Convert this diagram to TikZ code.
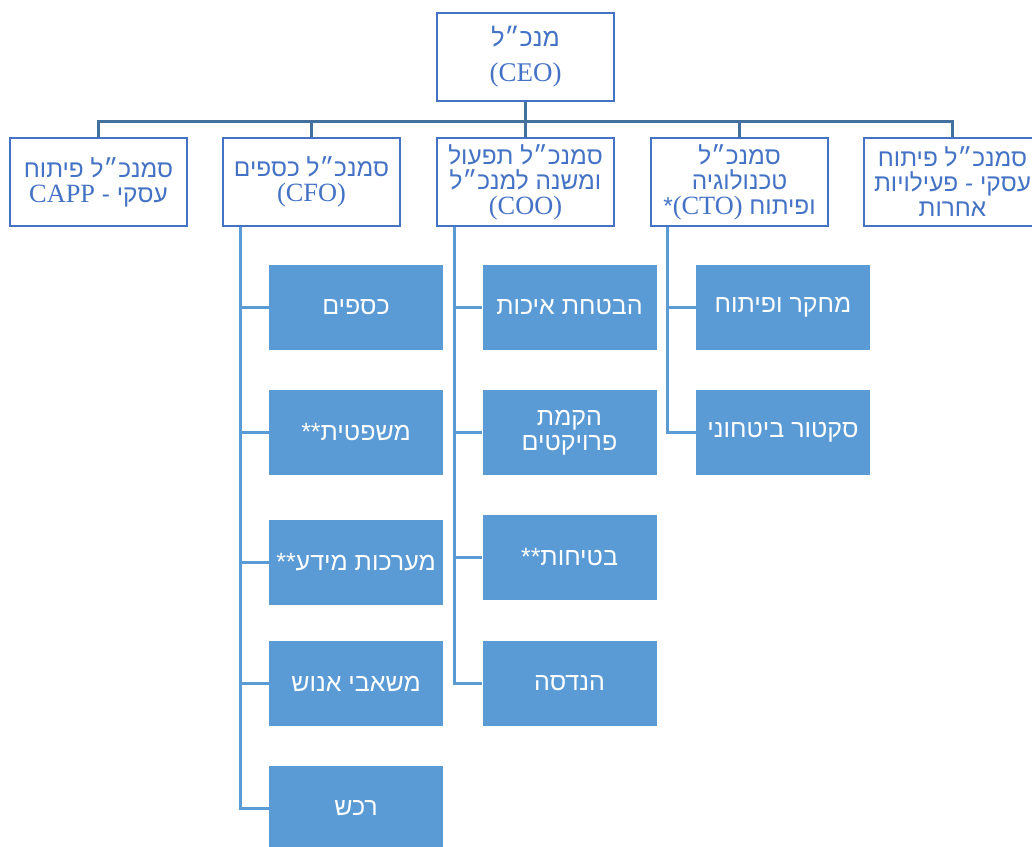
\documentclass[tikz,border=0pt]{standalone}
\usepackage{fontspec}
\setmainfont{Liberation Serif}[Scale=1.08]
\newfontfamily\hebfont[Script=Hebrew]{Liberation Sans}
\TeXXeTstate=1
\definecolor{boxblue}{HTML}{4472C4}
\definecolor{fillblue}{HTML}{5B9BD5}
\definecolor{barblue}{HTML}{41719C}
\newcommand{\rtl}[1]{{\hebfont\beginR #1\endR}}
\newcommand{\ltr}[1]{\beginL{\rmfamily #1}\endL}

\begin{document}
\begin{tikzpicture}[x=0.5pt, y=-0.5pt,
    head/.style={draw=boxblue, line width=1pt, fill=white, text=boxblue, inner sep=0pt,
      minimum width=88.5pt, minimum height=44pt, align=center,
      font=\fontsize{12.2}{12.5}\selectfont},
    unit/.style={fill=fillblue, text=white, inner sep=0pt,
      minimum width=87pt, minimum height=42.5pt, align=center,
      font=\fontsize{12.5}{12.5}\selectfont},
    bar/.style={draw=barblue, line width=1.5pt},
    sub/.style={draw=fillblue, line width=1.5pt}]
  \useasboundingbox (0,0) rectangle (1032,846);
  \clip (0,0) rectangle (1032,846);

  \node[head, font=\fontsize{12.5}{17.5}\selectfont] (ceo) at (525.5,56.5) {\rtl{מנכ״ל}\\\ltr{(CEO)}};

  \node[head] (capp) at (98.5,182) {\rtl{סמנכ״ל פיתוח}\\\rtl{עסקי - \ltr{CAPP}}};
  \node[head] (cfo) at (311.5,182) {\rtl{סמנכ״ל כספים}\\\ltr{(CFO)}};
  \node[head] (coo) at (525.5,182) {\rtl{סמנכ״ל תפעול}\\\rtl{ומשנה למנכ״ל}\\\ltr{(COO)}};
  \node[head] (cto) at (739.5,182) {\rtl{סמנכ״ל}\\\rtl{טכנולוגיה}\\\rtl{ופיתוח \ltr{(CTO)}*}};
  \node[head] (other) at (952.5,182) {\rtl{סמנכ״ל פיתוח}\\\rtl{עסקי - פעילויות}\\\rtl{אחרות}};

  \node[unit] (cfo1) at (356,307.5) {\rtl{כספים}};
  \node[unit] (cfo2) at (356,432.5) {\rtl{משפטית**}};
  \node[unit] (cfo3) at (356,562.5) {\rtl{מערכות מידע**}};
  \node[unit] (cfo4) at (356,683.5) {\rtl{משאבי אנוש}};
  \node[unit] (cfo5) at (356,808.5) {\rtl{רכש}};

  \node[unit] (coo1) at (569.5,307.5) {\rtl{הבטחת איכות}};
  \node[unit] (coo2) at (569.5,432.5) {\rtl{הקמת}\\\rtl{פרויקטים}};
  \node[unit] (coo3) at (569.5,557.5) {\rtl{בטיחות**}};
  \node[unit] (coo4) at (569.5,683.5) {\rtl{הנדסה}};

  \node[unit] (cto1) at (783,307.5) {\rtl{מחקר ופיתוח}};
  \node[unit] (cto2) at (783,432.5) {\rtl{סקטור ביטחוני}};

  \foreach \n in {capp,cfo,coo,cto,other}
    \draw[bar] (ceo.south) -- ++(0,20) -| (\n.north);
  \foreach \n in {1,...,5}
    \draw[sub] (cfo.south west) ++(18,0) |- (cfo\n.west);
  \foreach \n in {1,...,4}
    \draw[sub] (coo.south west) ++(18,0) |- (coo\n.west);
  \foreach \n in {1,2}
    \draw[sub] (cto.south west) ++(17,0) |- (cto\n.west);
\end{tikzpicture}
\end{document}
